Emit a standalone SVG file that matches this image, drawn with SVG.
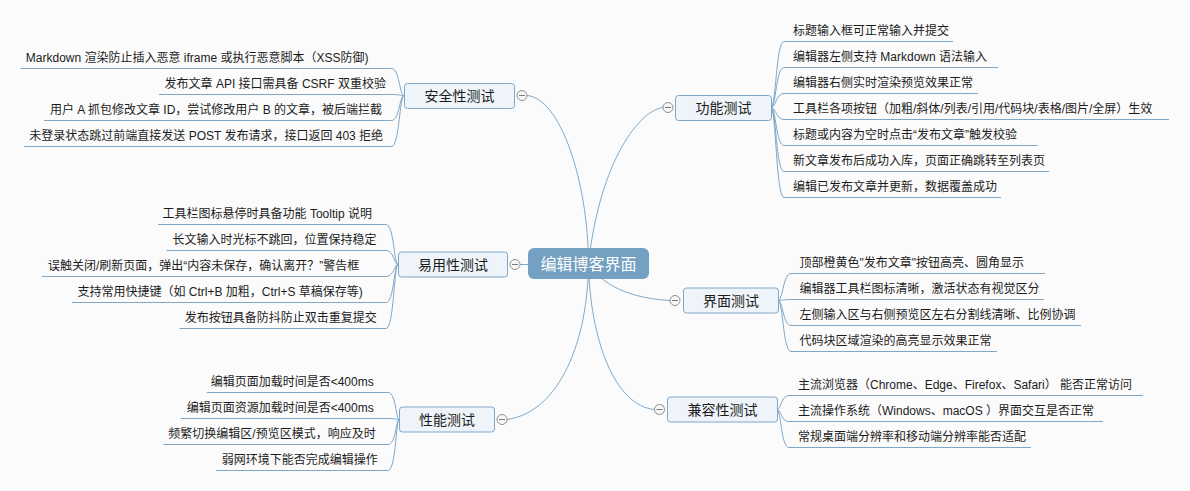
<svg xmlns="http://www.w3.org/2000/svg" width="1190" height="491" viewBox="0 0 1190 491">
<style>
text{font-family:"Liberation Sans","Noto Sans CJK SC",sans-serif;fill:#1b1b1b}
.leaf{font-size:12px}
.br{font-size:14px;text-anchor:middle}
.root{font-size:16px;text-anchor:middle;fill:#ffffff}
.box{fill:#eef4f9;stroke:#7ea7c8;stroke-width:1}
.rootbox{fill:#74a1c2}
.c{fill:none;stroke:#80a9ca;stroke-width:1}
.cl{fill:none;stroke:#7ea7c8;stroke-width:1}
.tog circle{fill:#f7f7f7;stroke:#8e8e8e;stroke-width:1}
.tog line{stroke:#7a7a7a;stroke-width:1}
</style>
<rect width="1190" height="491" fill="#fbfbfb"/>
<g id="connectors">
  <path class="c" d="M527 95.5 C560 98 588 180 588.5 263.5"/>
  <path class="c" d="M663 107.5 C640 110 600 160 588.5 263.5"/>
  <path class="c" d="M520 264.5 L588.5 264.5"/>
  <path class="c" d="M670 300.5 C640 299 605 290 588.5 263.5"/>
  <path class="c" d="M654.5 409.5 C615 406 590 340 588.5 263.5"/>
  <path class="c" d="M507 419.5 C560 412 588 340 588.5 263.5"/>
  <path class="cl" d="M404 95.5 C399.5 95.5 399.5 68.5 391.5 68.5 L20.5 68.5"/>
  <path class="cl" d="M404 95.5 C399.5 95.5 399.5 94.5 391.5 94.5 L159 94.5"/>
  <path class="cl" d="M404 95.5 C399.5 95.5 399.5 120.5 391.5 120.5 L44 120.5"/>
  <path class="cl" d="M404 95.5 C399.5 95.5 399.5 146.5 391.5 146.5 L24 146.5"/>
  <path class="cl" d="M771 107.5 C776 107.5 776 41.5 784 41.5 L953 41.5"/>
  <path class="cl" d="M771 107.5 C776 107.5 776 67.5 784 67.5 L998 67.5"/>
  <path class="cl" d="M771 107.5 C776 107.5 776 93.5 784 93.5 L978 93.5"/>
  <path class="cl" d="M771 107.5 C776 107.5 776 119.5 784 119.5 L1169 119.5"/>
  <path class="cl" d="M771 107.5 C776 107.5 776 145.5 784 145.5 L1037.5 145.5"/>
  <path class="cl" d="M771 107.5 C776 107.5 776 171.5 784 171.5 L1049 171.5"/>
  <path class="cl" d="M771 107.5 C776 107.5 776 197.5 784 197.5 L1001 197.5"/>
  <path class="cl" d="M398 264.5 C394 264.5 394 224.5 386 224.5 L158 224.5"/>
  <path class="cl" d="M398 264.5 C394 264.5 394 250.5 386 250.5 L166.6 250.5"/>
  <path class="cl" d="M398 264.5 C394 264.5 394 276.5 386 276.5 L42 276.5"/>
  <path class="cl" d="M398 264.5 C394 264.5 394 302.5 386 302.5 L72 302.5"/>
  <path class="cl" d="M398 264.5 C394 264.5 394 328.5 386 328.5 L179.5 328.5"/>
  <path class="cl" d="M778 300.5 C783 300.5 783 273.5 791 273.5 L1045 273.5"/>
  <path class="cl" d="M778 300.5 C783 300.5 783 299.5 791 299.5 L1044 299.5"/>
  <path class="cl" d="M778 300.5 C783 300.5 783 325.5 791 325.5 L1081 325.5"/>
  <path class="cl" d="M778 300.5 C783 300.5 783 351.5 791 351.5 L997 351.5"/>
  <path class="cl" d="M777 409.5 C781 409.5 781 395.5 789 395.5 L1143 395.5"/>
  <path class="cl" d="M777 409.5 C781 409.5 781 421.5 789 421.5 L1103 421.5"/>
  <path class="cl" d="M777 409.5 C781 409.5 781 447.5 789 447.5 L1031 447.5"/>
  <path class="cl" d="M399 419.5 C396 419.5 396 392.5 388 392.5 L206.7 392.5"/>
  <path class="cl" d="M399 419.5 C396 419.5 396 418.5 388 418.5 L180.7 418.5"/>
  <path class="cl" d="M399 419.5 C396 419.5 396 444.5 388 444.5 L163.3 444.5"/>
  <path class="cl" d="M399 419.5 C396 419.5 396 470.5 388 470.5 L216 470.5"/>
</g>

<g id="root">
  <rect class="rootbox" x="528" y="248" width="121" height="31" rx="6"/>
  <text class="root" x="588.5" y="269.5">编辑博客界面</text>
</g>

<g id="security">
  <rect class="box" x="404.5" y="83.5" width="110" height="25" rx="3"/>
  <text class="br" x="459.5" y="101">安全性测试</text>
  <g class="tog"><circle cx="522" cy="95.5" r="5"/><line x1="519" y1="95.5" x2="525" y2="95.5"/></g>
  <text class="leaf" x="25.8" y="61.5">Markdown 渲染防止插入恶意 iframe 或执行恶意脚本（XSS防御)</text>
  <text class="leaf" x="164.6" y="87.5">发布文章 API 接口需具备 CSRF 双重校验</text>
  <text class="leaf" x="50" y="113.5">用户 A 抓包修改文章 ID，尝试修改用户 B 的文章，被后端拦截</text>
  <text class="leaf" x="29.3" y="139.5">未登录状态跳过前端直接发送 POST 发布请求，接口返回 403 拒绝</text>
</g>

<g id="function">
  <rect class="box" x="675.5" y="95.5" width="96" height="25" rx="3"/>
  <text class="br" x="723.5" y="113">功能测试</text>
  <g class="tog"><circle cx="668" cy="107.5" r="5"/><line x1="665" y1="107.5" x2="671" y2="107.5"/></g>
  <text class="leaf" x="793" y="34.5">标题输入框可正常输入并提交</text>
  <text class="leaf" x="793" y="60.5">编辑器左侧支持 Markdown 语法输入</text>
  <text class="leaf" x="793" y="86.5">编辑器右侧实时渲染预览效果正常</text>
  <text class="leaf" x="793" y="112.5">工具栏各项按钮（加粗/斜体/列表/引用/代码块/表格/图片/全屏）生效</text>
  <text class="leaf" x="793" y="138.5">标题或内容为空时点击“发布文章”触发校验</text>
  <text class="leaf" x="793" y="164.5">新文章发布后成功入库，页面正确跳转至列表页</text>
  <text class="leaf" x="793" y="190.5">编辑已发布文章并更新，数据覆盖成功</text>
</g>

<g id="usability">
  <rect class="box" x="398.5" y="252" width="109" height="25" rx="3"/>
  <text class="br" x="453" y="269.5">易用性测试</text>
  <g class="tog"><circle cx="515" cy="264.5" r="5"/><line x1="512" y1="264.5" x2="518" y2="264.5"/></g>
  <text class="leaf" x="162.6" y="217.5">工具栏图标悬停时具备功能 Tooltip 说明</text>
  <text class="leaf" x="172.6" y="243.5">长文输入时光标不跳回，位置保持稳定</text>
  <text class="leaf" x="48" y="269.5">误触关闭/刷新页面，弹出“内容未保存，确认离开？”警告框</text>
  <text class="leaf" x="77.4" y="295.5">支持常用快捷键（如 Ctrl+B 加粗，Ctrl+S 草稿保存等)</text>
  <text class="leaf" x="184.7" y="321.5">发布按钮具备防抖防止双击重复提交</text>
</g>

<g id="ui">
  <rect class="box" x="683.5" y="288" width="95" height="25" rx="3"/>
  <text class="br" x="731" y="305.5">界面测试</text>
  <g class="tog"><circle cx="675" cy="300.5" r="5"/><line x1="672" y1="300.5" x2="678" y2="300.5"/></g>
  <text class="leaf" x="799.5" y="266.5">顶部橙黄色"发布文章"按钮高亮、圆角显示</text>
  <text class="leaf" x="799.5" y="292.5">编辑器工具栏图标清晰，激活状态有视觉区分</text>
  <text class="leaf" x="799.5" y="318.5">左侧输入区与右侧预览区左右分割线清晰、比例协调</text>
  <text class="leaf" x="799.5" y="344.5">代码块区域渲染的高亮显示效果正常</text>
</g>

<g id="compat">
  <rect class="box" x="667.5" y="397" width="110" height="25" rx="3"/>
  <text class="br" x="722.5" y="414.5">兼容性测试</text>
  <g class="tog"><circle cx="659.5" cy="409.5" r="5"/><line x1="656.5" y1="409.5" x2="662.5" y2="409.5"/></g>
  <text class="leaf" x="798" y="388.5">主流浏览器（Chrome、Edge、Firefox、Safari） 能否正常访问</text>
  <text class="leaf" x="798" y="414.5">主流操作系统（Windows、macOS ）界面交互是否正常</text>
  <text class="leaf" x="798" y="440.5">常规桌面端分辨率和移动端分辨率能否适配</text>
</g>

<g id="performance">
  <rect class="box" x="399.5" y="407" width="95" height="25" rx="3"/>
  <text class="br" x="447" y="424.5">性能测试</text>
  <g class="tog"><circle cx="502" cy="419.5" r="5"/><line x1="499" y1="419.5" x2="505" y2="419.5"/></g>
  <text class="leaf" x="210.7" y="385.5">编辑页面加载时间是否&lt;400ms</text>
  <text class="leaf" x="186.7" y="411.5">编辑页面资源加载时间是否&lt;400ms</text>
  <text class="leaf" x="168.3" y="437.5">频繁切换编辑区/预览区模式，响应及时</text>
  <text class="leaf" x="221.7" y="463.5">弱网环境下能否完成编辑操作</text>
</g>
</svg>
